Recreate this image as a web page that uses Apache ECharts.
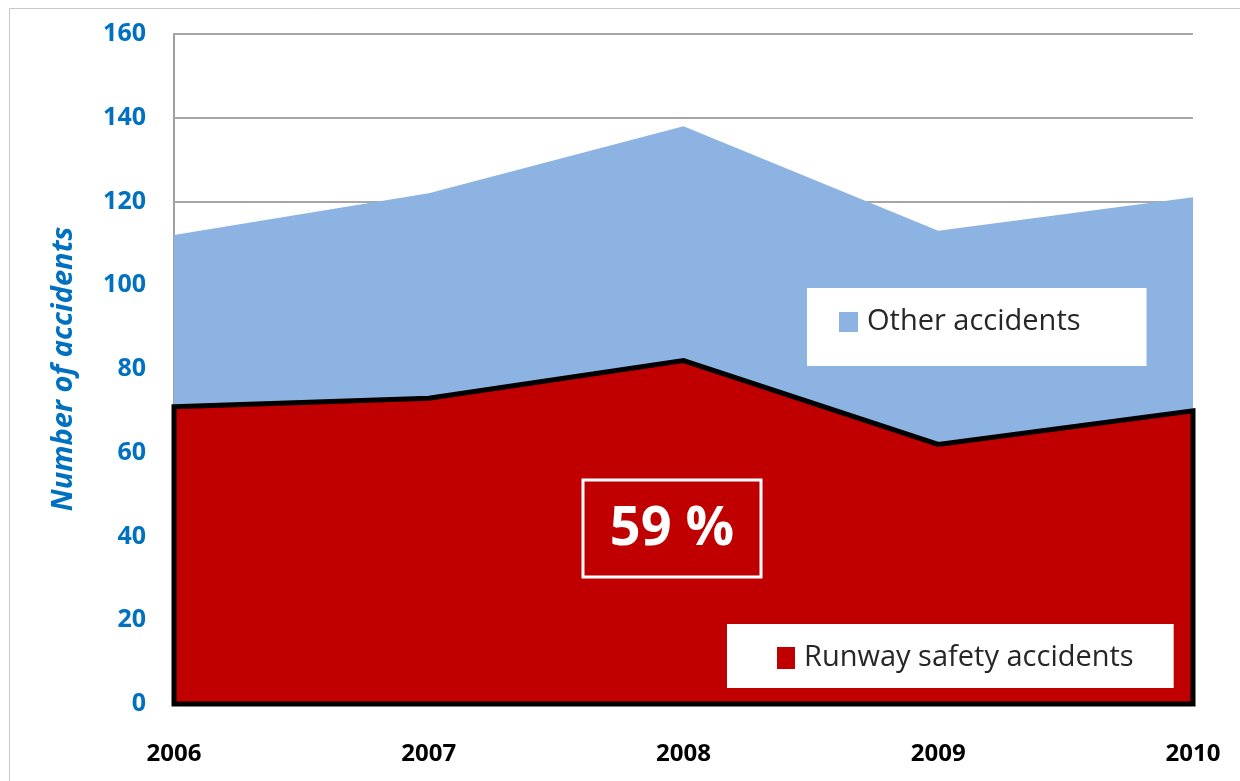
<!DOCTYPE html>
<html>
<head>
<meta charset="utf-8">
<title>Runway safety accidents</title>
<script src="https://cdn.jsdelivr.net/npm/echarts@6/dist/echarts.min.js"></script>
<style>
  html, body { margin: 0; padding: 0; background: #fff; }
  #chart { width: 1240px; height: 781px; }
</style>
</head>
<body>
<div id="chart"></div>
<script>
// data
var years = ['2006', '2007', '2008', '2009', '2010'];
var runwayAccidents = [71, 73, 82, 62, 70];
var otherAccidents = [41, 49, 56, 51, 51];
var yTicks = [0, 20, 40, 60, 80, 100, 120, 140, 160];

var FONT = '"Open Sans", "Noto Sans", sans-serif';
var BLUE = '#8db3e2';
var RED = '#c00000';

var myChart = echarts.init(document.getElementById('chart'));

// outline round the runway area (top line + sides + bottom)
function runwayOutline (params, api) {
  var pts = years.map(function (y, i) {
    return api.coord([y, runwayAccidents[i]]);
  });
  pts.push(api.coord([years[years.length - 1], 0]));
  pts.push(api.coord([years[0], 0]));
  return {
    type: 'polygon',
    shape: { points: pts },
    style: { fill: 'none', stroke: '#000', lineWidth: 5, lineJoin: 'miter' }
  };
}

var option = {
  animation: false,
  grid: { left: 174, right: 47, top: 34, bottom: 77, containLabel: false },
  legend: [
    {
      data: [{ name: 'Other accidents', itemStyle: { color: BLUE } }],
      left: 807,
      top: 288,
      orient: 'vertical',
      icon: 'rect',
      itemWidth: 19,
      itemHeight: 20,
      backgroundColor: '#fff',
      padding: [19, 66, 29, 32],
      itemStyle: { borderWidth: 0 },
      selectedMode: false,
      textStyle: { fontFamily: FONT, fontSize: 29, color: '#262626', lineHeight: 30, padding: [0, 0, 0, 4] }
    },
    {
      data: [{ name: 'Runway safety accidents', itemStyle: { color: RED } }],
      left: 727,
      top: 624,
      orient: 'vertical',
      icon: 'rect',
      itemWidth: 18,
      itemHeight: 22,
      backgroundColor: '#fff',
      padding: [19, 40, 15, 50],
      itemStyle: { borderWidth: 0 },
      selectedMode: false,
      textStyle: { fontFamily: FONT, fontSize: 29, color: '#262626', lineHeight: 30, padding: [0, 0, 0, 4] }
    }
  ],
  xAxis: {
    type: 'category',
    data: years,
    boundaryGap: false,
    axisLine: { show: false },
    axisTick: { show: false },
    axisLabel: {
      margin: 38,
      color: '#000',
      fontFamily: FONT,
      fontWeight: 'bold',
      fontSize: 24
    },
    splitLine: { show: false }
  },
  yAxis: {
    type: 'value',
    min: yTicks[0],
    max: yTicks[yTicks.length - 1],
    interval: 20,
    name: 'Number of accidents',
    nameLocation: 'middle',
    nameGap: 96,
    nameTextStyle: {
      color: '#0070c0',
      fontFamily: FONT,
      fontStyle: 'italic',
      fontWeight: 'bold',
      fontSize: 29
    },
    axisLine: { show: true, lineStyle: { color: '#a0a0a0', width: 2 } },
    axisTick: { show: false },
    axisLabel: {
      margin: 28,
      color: '#0070c0',
      fontFamily: FONT,
      fontWeight: 'bold',
      fontSize: 25
    },
    splitLine: { show: true, lineStyle: { color: '#a6a6a6', width: 2 } }
  },
  series: [
    {
      name: 'Runway safety accidents',
      type: 'line',
      stack: 'total',
      color: RED,
      symbol: 'none',
      lineStyle: { width: 0 },
      areaStyle: { color: RED, opacity: 1 },
      data: runwayAccidents,
      z: 2
    },
    {
      name: 'Other accidents',
      type: 'line',
      stack: 'total',
      color: BLUE,
      symbol: 'none',
      lineStyle: { width: 0 },
      areaStyle: { color: BLUE, opacity: 1 },
      data: otherAccidents,
      z: 2
    },
    {
      name: 'outline',
      type: 'custom',
      data: [[years[0], 0]],
      renderItem: runwayOutline,
      silent: true,
      z: 5
    }
  ],
  graphic: [
    {
      type: 'rect',
      silent: true,
      shape: { x: 9.5, y: 8.5, width: 1400, height: 900 },
      style: { fill: 'none', stroke: '#c8c8c8', lineWidth: 1 },
      z: 0
    },
    {
      type: 'rect',
      shape: { x: 583, y: 480, width: 178, height: 97 },
      style: { fill: 'none', stroke: '#fff', lineWidth: 3 },
      z: 10
    },
    {
      type: 'text',
      x: 672,
      y: 530,
      style: {
        text: '59 %',
        fill: '#fff',
        fontFamily: FONT,
        fontWeight: 'bold',
        fontSize: 54,
        align: 'center',
        verticalAlign: 'middle'
      },
      z: 10
    }
  ]
};

myChart.setOption(option);
</script>
</body>
</html>
